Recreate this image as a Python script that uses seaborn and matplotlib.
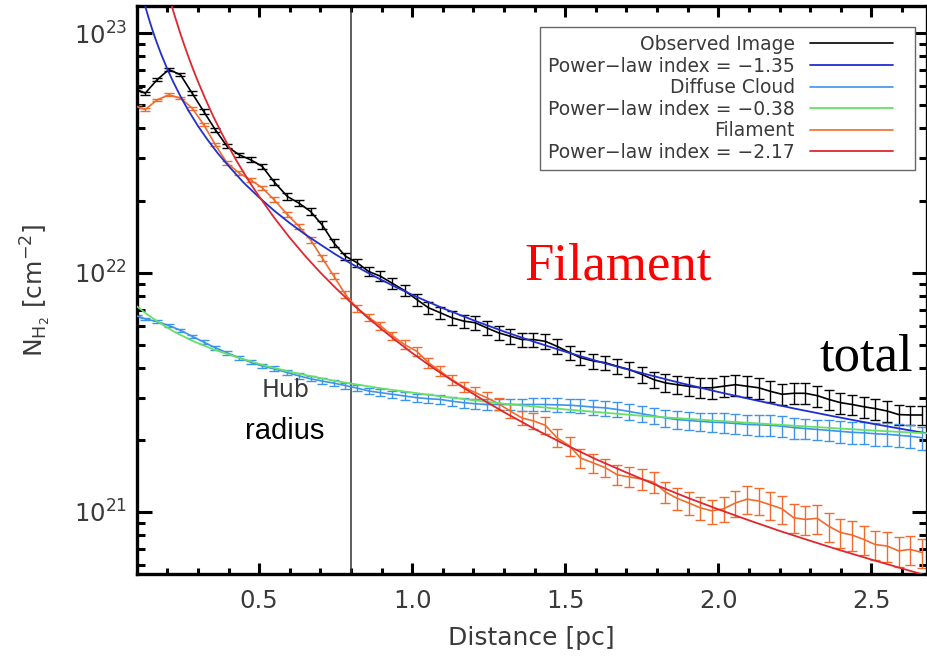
import numpy as np
import pandas as pd
import seaborn as sns
import matplotlib
matplotlib.use("Agg")
import matplotlib.pyplot as plt
from matplotlib.legend_handler import HandlerLine2D
from matplotlib.lines import Line2D

# Radial profiles, N(H2) in units of 1e21 cm^-2
dist = [0.101, 0.128, 0.167, 0.205, 0.243, 0.281, 0.319, 0.357, 0.395, 0.434,
        0.472, 0.510, 0.548, 0.592, 0.630, 0.668, 0.706, 0.744, 0.782, 0.820,
        0.858, 0.896, 0.935, 0.975, 1.015, 1.053, 1.092, 1.130, 1.168, 1.206,
        1.244, 1.282, 1.320, 1.358, 1.396, 1.435, 1.473, 1.516, 1.549, 1.592,
        1.631, 1.669, 1.707, 1.751, 1.789, 1.827, 1.865, 1.903, 1.941, 1.979,
        2.017, 2.056, 2.094, 2.132, 2.170, 2.208, 2.246, 2.284, 2.323, 2.361,
        2.399, 2.437, 2.475, 2.513, 2.551, 2.589, 2.627, 2.666]

observed = [58.1, 56.2, 64.0, 70.5, 67.1, 56.2, 47.1, 39.5, 33.7, 31.1,
            29.6, 27.8, 24.0, 20.8, 19.5, 18.0, 15.8, 13.3, 11.7, 11.0,
            10.1, 9.66, 9.02, 8.41, 7.71, 7.13, 6.79, 6.47, 6.27, 6.17,
            5.87, 5.60, 5.42, 5.25, 5.25, 5.16, 4.92, 4.62, 4.41, 4.27,
            4.20, 4.06, 3.94, 3.75, 3.57, 3.46, 3.40, 3.35, 3.30, 3.30,
            3.35, 3.40, 3.35, 3.30, 3.19, 3.10, 3.13, 3.13, 3.06, 2.95,
            2.86, 2.81, 2.75, 2.70, 2.64, 2.55, 2.54, 2.54]
observed_err = [0.015, 0.015, 0.015, 0.015, 0.015, 0.02, 0.02, 0.02, 0.02, 0.02,
                0.025, 0.025, 0.03, 0.03, 0.03, 0.03, 0.035, 0.035, 0.035, 0.04,
                0.045, 0.05, 0.05, 0.055, 0.06, 0.06, 0.06, 0.065, 0.065, 0.065,
                0.065, 0.065, 0.07, 0.07, 0.07, 0.07, 0.07, 0.07, 0.07, 0.07,
                0.07, 0.07, 0.07, 0.075, 0.08, 0.085, 0.09, 0.09, 0.095, 0.1,
                0.1, 0.1, 0.1, 0.1, 0.1, 0.1, 0.1, 0.1, 0.1, 0.1,
                0.1, 0.1, 0.1, 0.1, 0.1, 0.095, 0.095, 0.095]

diffuse = [6.58, 6.41, 6.23, 6.01, 5.74, 5.42, 5.12, 4.85, 4.62, 4.41,
           4.22, 4.07, 3.96, 3.82, 3.70, 3.60, 3.52, 3.45, 3.37, 3.29,
           3.20, 3.15, 3.10, 3.05, 3.00, 2.97, 2.95, 2.90, 2.86, 2.83,
           2.81, 2.81, 2.81, 2.81, 2.81, 2.81, 2.80, 2.79, 2.77, 2.74,
           2.72, 2.68, 2.63, 2.57, 2.52, 2.47, 2.43, 2.41, 2.39, 2.37,
           2.36, 2.34, 2.32, 2.31, 2.30, 2.28, 2.25, 2.23, 2.21, 2.19,
           2.17, 2.15, 2.14, 2.12, 2.11, 2.09, 2.07, 2.04]
diffuse_err = [0.012, 0.012, 0.013, 0.014, 0.015, 0.016, 0.017, 0.018, 0.019, 0.02,
               0.021, 0.022, 0.023, 0.024, 0.025, 0.026, 0.027, 0.028, 0.029, 0.03,
               0.032, 0.034, 0.036, 0.038, 0.04, 0.042, 0.044, 0.046, 0.048, 0.05,
               0.052, 0.054, 0.056, 0.058, 0.06, 0.062, 0.064, 0.066, 0.068, 0.07,
               0.072, 0.074, 0.076, 0.078, 0.08, 0.082, 0.084, 0.086, 0.088, 0.09,
               0.092, 0.094, 0.096, 0.098, 0.1, 0.1, 0.1, 0.1, 0.1, 0.1,
               0.105, 0.105, 0.105, 0.11, 0.11, 0.11, 0.11, 0.11]

filament = [49.4, 48.0, 52.7, 55.3, 53.6, 48.7, 41.5, 34.2, 28.7, 26.1,
            24.4, 22.6, 20.2, 17.5, 15.6, 13.7, 11.5, 9.66, 8.1, 7.1,
            6.5, 6.0, 5.45, 5.0, 4.69, 4.20, 3.87, 3.57, 3.33, 3.15,
            3.00, 2.83, 2.64, 2.47, 2.40, 2.30, 2.04, 1.88, 1.68, 1.60,
            1.53, 1.43, 1.40, 1.37, 1.33, 1.21, 1.14, 1.09, 1.04, 1.01,
            1.03, 1.09, 1.13, 1.11, 1.07, 1.03, 0.945, 0.93, 0.94, 0.87,
            0.82, 0.80, 0.767, 0.73, 0.72, 0.687, 0.697, 0.676]
filament_err = [0.012, 0.012, 0.012, 0.013, 0.013, 0.014, 0.015, 0.016, 0.017, 0.018,
                0.019, 0.02, 0.021, 0.022, 0.024, 0.026, 0.028, 0.03, 0.032, 0.034,
                0.036, 0.038, 0.04, 0.042, 0.044, 0.046, 0.048, 0.05, 0.052, 0.055,
                0.058, 0.06, 0.065, 0.07, 0.075, 0.08, 0.085, 0.09, 0.09, 0.09,
                0.09, 0.095, 0.095, 0.1, 0.1, 0.1, 0.105, 0.11, 0.11, 0.115,
                0.12, 0.125, 0.13, 0.13, 0.135, 0.135, 0.14, 0.14, 0.14, 0.14,
                0.14, 0.14, 0.14, 0.14, 0.14, 0.14, 0.14, 0.14]

# Power-law fits
fit_total_x = [0.115, 0.12, 0.13, 0.14, 0.15, 0.165, 0.18, 0.20, 0.22, 0.245,
               0.27, 0.30, 0.33, 0.365, 0.40, 0.45, 0.50, 0.55, 0.60, 0.65,
               0.70, 0.75, 0.80, 0.875, 0.95, 1.025, 1.10, 1.20, 1.30, 1.40,
               1.50, 1.625, 1.75, 1.875, 2.00, 2.125, 2.25, 2.375, 2.50, 2.60, 2.68]
fit_total = [150, 141.3, 126.8, 114.8, 104.5, 91.9, 81.7, 70.9, 62.4, 53.9,
             47.3, 41.0, 36.1, 31.5, 27.9, 23.7, 20.6, 18.1, 16.1, 14.45,
             13.1, 11.9, 10.9, 9.67, 8.65, 7.81, 7.10, 6.32, 5.67, 5.13,
             4.67, 4.19, 3.80, 3.46, 3.17, 2.92, 2.70, 2.51, 2.34, 2.22, 2.13]
fit_diffuse_x = [0.101, 0.13, 0.17, 0.22, 0.28, 0.35, 0.43, 0.52, 0.62, 0.75,
                 0.90, 1.10, 1.30, 1.50, 1.75, 2.00, 2.25, 2.50, 2.68]
fit_diffuse = [7.22, 6.75, 6.22, 5.68, 5.20, 4.78, 4.42, 4.08, 3.80, 3.52,
               3.28, 3.03, 2.83, 2.68, 2.52, 2.40, 2.29, 2.19, 2.13]
fit_filament_x = [0.205, 0.215, 0.225, 0.24, 0.255, 0.27, 0.285, 0.30, 0.325, 0.35,
                  0.375, 0.40, 0.425, 0.45, 0.475, 0.50, 0.55, 0.60, 0.65, 0.70,
                  0.75, 0.80, 0.85, 0.90, 0.95, 1.00, 1.075, 1.15, 1.225, 1.30,
                  1.40, 1.50, 1.60, 1.70, 1.80, 1.90, 2.00, 2.10, 2.20, 2.30,
                  2.40, 2.50, 2.60, 2.68]
fit_filament = [143.7, 129.6, 117.4, 102.1, 89.5, 79.1, 70.3, 62.9, 52.9, 45.0,
                38.8, 33.7, 29.5, 26.1, 23.2, 20.8, 16.9, 13.98, 11.75, 10.0,
                8.62, 7.49, 6.56, 5.80, 5.16, 4.61, 3.94, 3.41, 2.97, 2.61,
                2.22, 1.91, 1.66, 1.46, 1.29, 1.145, 1.025, 0.922, 0.833, 0.757,
                0.690, 0.632, 0.580, 0.542]

labels = ["Observed Image", "Power\u2212law index = \u22121.35",
          "Diffuse Cloud", "Power\u2212law index = \u22120.38",
          "Filament", "Power\u2212law index = \u22122.17"]
hub_radius = 0.8

c_obs, c_fit_obs = "#000000", "#1f2fd0"
c_dif, c_fit_dif = "#3d94ea", "#66e066"
c_fil, c_fit_fil = "#f26b2d", "#e0262e"


class ShortLine(HandlerLine2D):
    # legend sample drawn on the left part of the handle box, leaving room on the right
    def create_artists(self, legend, orig_handle, xdescent, ydescent, width,
                       height, fontsize, trans):
        return super().create_artists(legend, orig_handle, xdescent, ydescent,
                                      width * 0.85, height, fontsize, trans)


sns.set_theme()
sns.set_style("ticks")
plt.rcParams['font.family'] = ['DejaVu Sans']
plt.rcParams['mathtext.fontset'] = 'dejavusans'

fig = plt.figure(figsize=(9.27, 6.61), dpi=100)
ax = fig.add_axes([137 / 927, 87 / 661, 789.5 / 927, 568 / 661])

scale = 1e21
df = pd.DataFrame({"dist": dist,
                   "obs": np.array(observed) * scale,
                   "dif": np.array(diffuse) * scale,
                   "fil": np.array(filament) * scale})

series = [("obs", observed_err, c_obs, labels[0]),
          ("dif", diffuse_err, c_dif, labels[2]),
          ("fil", filament_err, c_fil, labels[4])]
for col, err, color, lab in series:
    ax.errorbar(df["dist"], df[col], yerr=df[col] * np.array(err), fmt="none",
                ecolor=color, elinewidth=1.0, capsize=3.5, capthick=1.0, zorder=2)
    sns.lineplot(x=df["dist"], y=df[col], color=color, lw=1.2, sort=False,
                 label=lab, ax=ax, zorder=3)

fits = [(fit_total_x, fit_total, c_fit_obs, labels[1]),
        (fit_diffuse_x, fit_diffuse, c_fit_dif, labels[3]),
        (fit_filament_x, fit_filament, c_fit_fil, labels[5])]
for fx, fy, color, lab in fits:
    sns.lineplot(x=fx, y=np.array(fy) * scale, color=color, lw=1.3, sort=False,
                 label=lab, ax=ax, zorder=4)

ax.axvline(hub_radius, color="#333333", lw=1.1, zorder=1)

ax.set_yscale("log")
ax.set_xlim(0.101, 2.68)
ax.set_ylim(5.5e20, 1.3e23)
ax.xaxis.set_major_locator(matplotlib.ticker.MultipleLocator(0.5))
ax.xaxis.set_minor_locator(matplotlib.ticker.MultipleLocator(0.1))
ax.xaxis.set_major_formatter(matplotlib.ticker.FormatStrFormatter("%.1f"))

txt_gray = "#3a3a3a"
ax.tick_params(axis="both", which="both", direction="in", top=True, right=True,
               width=2.2, color="black", labelcolor=txt_gray, labelsize=17.5)
ax.tick_params(axis="x", which="major", length=8, pad=11)
ax.tick_params(axis="x", which="minor", length=4.5)
ax.tick_params(axis="y", which="major", length=11, pad=7)
ax.tick_params(axis="y", which="minor", length=5.5)
for s in ax.spines.values():
    s.set_linewidth(2.4)
    s.set_color("black")

ax.set_xlabel("Distance [pc]", fontsize=18, color=txt_gray)
ax.set_ylabel(r"N$_{\mathrm{H_2}}$ [cm$^{-2}$]", fontsize=18, color=txt_gray)
ax.yaxis.set_label_coords(-0.106, 0.5)
ax.xaxis.set_label_coords(0.5, -0.092)

# annotations
ax.text(0.585, 3.24e21, "Hub", ha="center", va="center", fontsize=17, color=txt_gray)
ax.text(0.585, 2.17e21, "radius", ha="center", va="center", fontsize=21,
        color="black", family="Liberation Sans")
ax.text(0.610, 0.518, "Filament", transform=ax.transAxes, ha="center", va="baseline",
        fontsize=38, color="#ff0000", family="Liberation Serif")
ax.text(0.983, 0.359, "total", transform=ax.transAxes, ha="right", va="baseline",
        fontsize=38, color="black", family="Liberation Serif")

handles, labs = ax.get_legend_handles_labels()
order = [labs.index(l) for l in labels]
leg = ax.legend([handles[i] for i in order], [labs[i] for i in order],
                loc="upper right", bbox_to_anchor=(915 / 927, 1 - 27 / 661),
                bbox_transform=fig.transFigure, markerfirst=False, frameon=True,
                fancybox=False, framealpha=1, edgecolor="#666666", fontsize=13.5,
                handlelength=5.2, handletextpad=0.8, labelspacing=0.14,
                borderpad=0.42, borderaxespad=0,
                handler_map={Line2D: ShortLine()})
leg.get_frame().set_linewidth(1.0)
for t in leg.get_texts():
    t.set_color(txt_gray)

fig.savefig("out.png", dpi=100)
